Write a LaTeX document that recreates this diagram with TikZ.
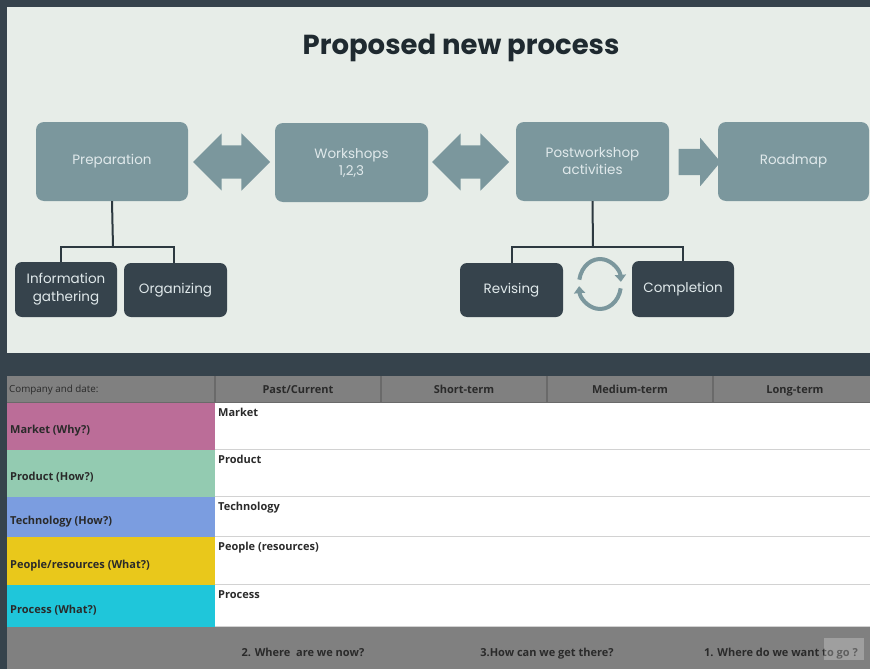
\documentclass[tikz,border=0pt]{standalone}
\usepackage{fontspec}
\setmainfont{Poppins}
\newfontfamily\tablefont{Open Sans}
\usetikzlibrary{shapes.arrows,arrows.meta}
\definecolor{slate}{HTML}{36434C}
\definecolor{panel}{HTML}{E7EDE8}
\definecolor{stepfill}{HTML}{7B979D}
\definecolor{steptext}{HTML}{E0E9EB}
\definecolor{linkc}{HTML}{2D3940}
\definecolor{titlec}{HTML}{1F2A30}
\definecolor{headc}{HTML}{808080}
\definecolor{headline}{HTML}{6A6A6A}
\definecolor{cellline}{HTML}{D2D2D2}
\definecolor{celltext}{HTML}{2A2A2A}
\definecolor{marketc}{HTML}{BB6D98}
\definecolor{productc}{HTML}{93CBB1}
\definecolor{technologyc}{HTML}{7B9DE0}
\definecolor{peoplec}{HTML}{E9C81B}
\definecolor{processc}{HTML}{1FC6DA}

\tikzset{
  stepbox/.style={rectangle, rounded corners=8pt, fill=stepfill, text=steptext,
    align=center, font=\fontsize{13.5}{17}\selectfont},
  subbox/.style={rectangle, rounded corners=7pt, fill=slate, text=steptext,
    align=center, font=\fontsize{13.5}{18}\selectfont},
  link/.style={draw=linkc, line width=2pt},
  twoway/.style={double arrow, fill=stepfill, inner xsep=0pt, inner ysep=16.5pt,
    minimum height=77pt, minimum width=57pt, double arrow head extend=12pt},
  oneway/.style={single arrow, fill=stepfill, inner xsep=0pt, inner ysep=13pt,
    minimum height=42pt, minimum width=48pt, single arrow head extend=11pt,
    single arrow tip angle=100},
  cycle/.style={draw=stepfill, line width=4pt, -{Triangle[length=7pt,width=11pt]}},
  cell/.style={font=\tablefont\bfseries\fontsize{11}{13}\selectfont, text=celltext, inner sep=0pt}
}

\begin{document}
\begin{tikzpicture}[x=1pt,y=-1pt]
        \useasboundingbox (0,0) rectangle (870,669);
        \fill[slate] (0,0) rectangle (870,669);

        % the process panel
        \fill[panel] (7,7) rectangle (870,353);
        \node[text=titlec, font=\bfseries\fontsize{27.5}{32}\selectfont] (title) at (461,48) {Proposed new process};

        % the main steps
        \node[stepbox, minimum width=152pt, minimum height=79pt] (prep) at (112,161.5) {Preparation};
        \node[stepbox, minimum width=153pt, minimum height=79pt] (works) at (351.5,162.5) {Workshops\\1,2,3};
        \node[stepbox, minimum width=153pt, minimum height=79pt] (post) at (592.5,161.5) {Postworkshop\\activities};
        \node[stepbox, minimum width=151pt, minimum height=79pt] (road) at (793.5,161.5) {Roadmap};

        % the arrows between the steps
        \node[twoway] (prepworks) at (231.5,162) {};
        \node[twoway] (workspost) at (470.5,162) {};
        \node[oneway] (postroad) at (694,162) {};

        % the sub steps
        \node[subbox, minimum width=102pt, minimum height=55pt] (info) at (66,289.5) {Information\\gathering};
        \node[subbox, minimum width=103pt, minimum height=54pt] (org) at (175.5,290) {Organizing};
        \node[subbox, minimum width=103pt, minimum height=54pt] (revise) at (511.5,290) {Revising};
        \node[subbox, minimum width=102pt, minimum height=56pt] (complete) at (683,289) {Completion};

        % the tree lines
        \coordinate (prepfork) at (113,247);
        \coordinate (postfork) at (593,247);
        \draw[link] (prep.south) -- (prepfork);
        \draw[link] ([xshift=-5pt]info.north) |- (prepfork) -| ([xshift=-1.5pt]org.north);
        \draw[link] (post.south) -- (postfork);
        \draw[link] (revise.north) |- (postfork) -| (complete.north);

        % the loop between revising and completion
        \coordinate (loop) at (600,284);
        \draw[cycle] (loop) ++(-170:21 and 25) arc[start angle=-170, end angle=-5, x radius=21, y radius=25];
        \draw[cycle] (loop) ++(10:21 and 25) arc[start angle=10, end angle=175, x radius=21, y radius=25];

        % the header of the table
        \fill[headc] (7,376) rectangle (870,403);
        \foreach \x in {215,381,547,713}
                \draw[headline, line width=1.5pt] (\x,376) -- (\x,403);
        \draw[headline, line width=1.5pt] (7,403) -- (870,403);
        \node[cell, anchor=base west, font=\tablefont\fontsize{9.8}{11}\selectfont] (company) at (9,392.5) {Company and date:};
        \node[cell, anchor=base] (past) at (298,393) {Past/Current};
        \node[cell, anchor=base] (short) at (464,393) {Short-term};
        \node[cell, anchor=base] (medium) at (630,393) {Medium-term};
        \node[cell, anchor=base] (long) at (795,393) {Long-term};

        % the rows of the table
        \foreach \name/\lab/\txt/\top/\bot in {
            market/Market (Why?)/Market/403/450,
            product/Product (How?)/Product/450/497,
            technology/Technology (How?)/Technology/497/537,
            people/{People/resources (What?)}/People (resources)/537/585,
            process/Process (What?)/Process/585/627} {
                \fill[\name c] (7,\top) rectangle (215,\bot);
                \fill[white] (215,\top) rectangle (870,\bot);
                \draw[cellline, line width=2.5pt] (215,\bot) -- (870,\bot);
                \draw[black!25, line width=0.8pt] (7,\bot) -- (215,\bot);
                \node[cell, anchor=base west] (\name lab) at (10,{(\top+\bot)/2+7}) {\lab};
                \node[cell, anchor=base west] (\name txt) at (218,\top+13) {\txt};
        }

        % the footer of the table
        \fill[headc] (7,627) rectangle (870,669);
        \node[cell, anchor=base] (now) at (303,656) {2. Where\ \ are we now?};
        \node[cell, anchor=base] (how) at (547,656) {3.How can we get there?};
        \node[cell, anchor=base] (where) at (781,656) {1. Where do we want to go ?};
        \fill[white, opacity=0.25] (824,638) rectangle (864,660);
\end{tikzpicture}
\end{document}
